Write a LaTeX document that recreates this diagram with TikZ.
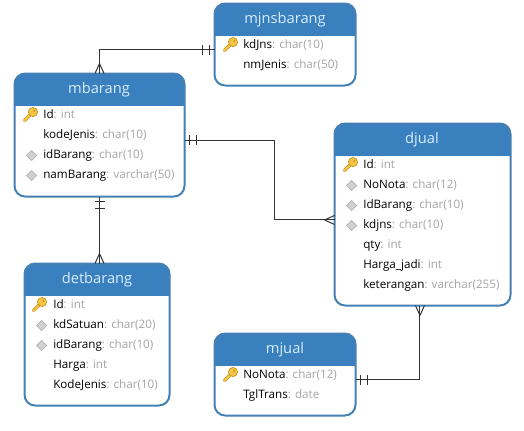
\documentclass[tikz,border=0pt]{standalone}
\usepackage{fontspec}
\setmainfont{Open Sans}
\usetikzlibrary{positioning}
\definecolor{headblue}{HTML}{3A80BE}
\definecolor{edgeblue}{HTML}{4480B4}
\definecolor{titlecol}{HTML}{D6EEFF}
\definecolor{typegray}{HTML}{A4A4A4}
\definecolor{linecol}{HTML}{333333}
\definecolor{keygold}{HTML}{F6C445}
\definecolor{keyedge}{HTML}{C8941E}
\newcommand{\ftype}[1]{\textcolor{typegray}{#1}}
\tikzstyle{tablebox}=[shape=rectangle,anchor=north west,draw=edgeblue,fill=white,line width=1.5pt,rounded corners=8pt,outer sep=0pt,inner sep=0pt,
  path picture={\fill[headblue,sharp corners] (path picture bounding box.north west) rectangle ([yshift=-24pt]path picture bounding box.north east);}]
\tikzstyle{tabletitle}=[text=titlecol,font=\fontsize{11}{13}\selectfont]
\tikzstyle{fieldtext}=[anchor=base west,inner sep=0pt,font=\fontsize{8.75}{10}\selectfont]
\tikzstyle{mainedge}=[draw=linecol,line width=0.75pt]
\tikzset{
  crowfoot/.pic={\draw[mainedge] (10,0) -- (0,-4.5) (10,0) -- (0,4.5);},
  onemark/.pic={\draw[mainedge] (5,-5) -- (5,5) (12,-5) -- (12,5);},
  pkey/.pic={
    \draw[keyedge,line width=2.6pt,line cap=round] (1,-1) -- (-5.5,5.5);
    \draw[keygold,line width=1.6pt,line cap=round] (1,-1) -- (-5.5,5.5);
    \draw[keyedge,fill=keygold,line width=0.5pt] (3,-3) circle (4.6);
    \fill[keyedge] (4.2,-4.2) circle (1);
  },
  fkey/.pic={\draw[draw=black!30,fill=black!18,line width=0.5pt] (0,-5) -- (5,0) -- (0,5) -- (-5,0) -- cycle;}
}

\begin{document}
\begin{tikzpicture}[x=0.75pt,y=-0.75pt]
\useasboundingbox[fill=white] (0,0) rectangle (524,430);
% tables
\node[tablebox,minimum width=170*0.75pt,minimum height=123*0.75pt] (mbarang) at (14.5,73.5) {};
\node[tablebox,minimum width=141*0.75pt,minimum height=82*0.75pt] (mjnsbarang) at (214.5,3.5) {};
\node[tablebox,minimum width=176*0.75pt,minimum height=182*0.75pt] (djual) at (334.5,123.5) {};
\node[tablebox,minimum width=145*0.75pt,minimum height=142*0.75pt] (detbarang) at (24.5,263.5) {};
\node[tablebox,minimum width=141*0.75pt,minimum height=82*0.75pt] (mjual) at (214.5,333.5) {};
\node[tabletitle] (mbarang_t) at (99,90) {mbarang};
\node[tabletitle] (mjnsbarang_t) at (285,20) {mjnsbarang};
\node[tabletitle] (djual_t) at (422,140) {djual};
\node[tabletitle] (detbarang_t) at (97,280) {detbarang};
\node[tabletitle] (mjual_t) at (285,350) {mjual};

% mbarang
\pic at (30,115) {pkey};
\node[fieldtext] (mb_1) at (43,118) {Id\ftype{: int}};
\node[fieldtext] (mb_2) at (43,138) {kodeJenis\ftype{: char(10)}};
\pic at (31.7,155.5) {fkey};
\node[fieldtext] (mb_3) at (43,158) {idBarang\ftype{: char(10)}};
\pic at (31.7,175.5) {fkey};
\node[fieldtext] (mb_4) at (43,178) {namBarang\ftype{: varchar(50)}};

% mjnsbarang
\pic at (230,45) {pkey};
\node[fieldtext] (mj_1) at (243,48) {kdJns\ftype{: char(10)}};
\node[fieldtext] (mj_2) at (243,68) {nmJenis\ftype{: char(50)}};

% djual
\pic at (350,165) {pkey};
\node[fieldtext] (dj_1) at (363,168) {Id\ftype{: int}};
\pic at (351.7,185.5) {fkey};
\node[fieldtext] (dj_2) at (363,188) {NoNota\ftype{: char(12)}};
\pic at (351.7,205.5) {fkey};
\node[fieldtext] (dj_3) at (363,208) {IdBarang\ftype{: char(10)}};
\pic at (351.7,225.5) {fkey};
\node[fieldtext] (dj_4) at (363,228) {kdjns\ftype{: char(10)}};
\node[fieldtext] (dj_5) at (363,248) {qty\ftype{: int}};
\node[fieldtext] (dj_6) at (363,268) {Harga\_jadi\ftype{: int}};
\node[fieldtext] (dj_7) at (363,288) {keterangan\ftype{: varchar(255)}};

% detbarang
\pic at (39,305) {pkey};
\node[fieldtext] (db_1) at (53,308) {Id\ftype{: int}};
\pic at (41.7,325.5) {fkey};
\node[fieldtext] (db_2) at (53,328) {kdSatuan\ftype{: char(20)}};
\pic at (41.7,345.5) {fkey};
\node[fieldtext] (db_3) at (53,348) {idBarang\ftype{: char(10)}};
\node[fieldtext] (db_4) at (53,368) {Harga\ftype{: int}};
\node[fieldtext] (db_5) at (53,388) {KodeJenis\ftype{: char(10)}};

% mjual
\pic at (230,375) {pkey};
\node[fieldtext] (mu_1) at (243,378) {NoNota\ftype{: char(12)}};
\node[fieldtext] (mu_2) at (243,398) {TglTrans\ftype{: date}};

% relations
\coordinate (dj_in) at ([yshift=-4.1pt]djual.west);
\draw[mainedge] (mbarang.north) |- ([yshift=-4.1pt]mjnsbarang.west);
\pic[rotate=90] at (mbarang.north) {crowfoot};
\pic[rotate=180] at ([yshift=-4.1pt]mjnsbarang.west) {onemark};
\draw[mainedge] ([yshift=-4.1pt]mbarang.east) -| (274.5,0 |- dj_in) -- (dj_in);
\pic at ([yshift=-4.1pt]mbarang.east) {onemark};
\pic[rotate=180] at (dj_in) {crowfoot};
\draw[mainedge] (mbarang.south) -- (mbarang.south |- detbarang.north);
\pic[rotate=-90] at (mbarang.south) {onemark};
\pic[rotate=90] at (mbarang.south |- detbarang.north) {crowfoot};
\draw[mainedge] ([xshift=-1.9pt]djual.south) |- ([yshift=-4.1pt]mjual.east);
\pic[rotate=-90] at ([xshift=-1.9pt]djual.south) {crowfoot};
\pic at ([yshift=-4.1pt]mjual.east) {onemark};
\end{tikzpicture}
\end{document}
